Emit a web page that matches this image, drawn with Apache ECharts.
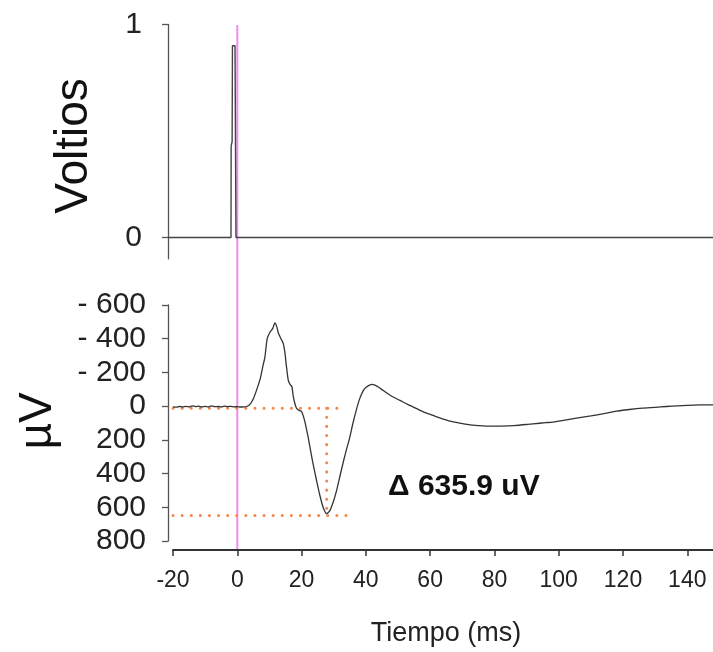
<!DOCTYPE html>
<html>
<head>
<meta charset="utf-8">
<script src="https://cdn.jsdelivr.net/npm/echarts@6/dist/echarts.min.js"></script>
<style>
html,body{margin:0;padding:0;background:#fff;}
#chart{width:713px;height:652px;}
</style>
</head>
<body>
<div id="chart"></div>
<script>
// ---- data ----
const timeTicks = [-20, 0, 20, 40, 60, 80, 100, 120, 140];
const voltTicks = [0, 1];
const uvTicks = [-600, -400, -200, 0, 200, 400, 600, 800];

// stimulus pulse (ms, V)
const pulseTrace = [[-21.5, 0], [-1.95, 0], [-1.9, 0.43], [-1.6, 0.45], [-1.5, 0.9], [-0.7, 0.9], [-0.4, 0], [148, 0]];

// evoked response (ms, µV; positive plotted downward)
const evokedTrace = [
  [-20, 4], [-19, 6], [-18, 2], [-17, 5], [-16, 1], [-15, 4], [-14, -2], [-13, 3], [-12, 0], [-11, 5],
  [-10, 1], [-9, 4], [-8, -1], [-7, 3], [-6, 2], [-5, 5], [-4, 0], [-3, 3], [-2, 1], [-1, 4],
  [0, 3], [1, 5], [2, 4], [2.9, 2], [4, -12], [5, -44], [6, -95], [7.1, -160], [8, -240], [8.6, -291],
  [9.3, -400], [10.2, -440], [11, -460], [11.7, -494], [12.3, -470], [12.8, -432], [13.8, -392], [14.3, -372],
  [14.8, -320], [15.3, -235], [15.85, -155], [16.4, -130], [17, -115], [17.4, -60], [18, -10], [18.5, 15],
  [19.2, 25], [20, 32], [21, 90], [22, 180], [22.6, 243], [23.5, 335], [24.7, 445], [25.7, 530], [26.7, 600],
  [27.8, 638], [28.8, 620], [30, 560], [30.9, 500], [32, 410], [33, 330], [34, 255], [35, 185], [36, 100],
  [37, 25], [38, -40], [39.2, -92], [40.2, -113], [41.8, -129], [43, -123], [44, -112], [45.4, -93],
  [47, -72], [48.5, -54], [50.6, -34], [53, -10], [55.8, 15], [58, 35], [60.9, 55], [63, 70], [66.1, 89],
  [69.2, 101], [72, 110], [75, 115], [78.5, 119], [82, 118], [86, 115], [90, 109], [92, 105], [96, 98],
  [98, 95], [102.4, 81], [106, 70], [110, 58], [114, 45], [117.9, 30], [122, 20], [126, 12], [130, 7],
  [133.5, 2], [137, -2], [140, -5], [144, -7], [148, -8]
];

// amplitude measurement guides
const baselineLevel = 12;
const troughLevel = 648;
const troughTime = 27.8;
const baselineGuide = [[-20, baselineLevel], [31.3, baselineLevel]];
const troughGuide = [[-20, troughLevel], [34.4, troughLevel]];
const verticalGuide = [[troughTime, baselineLevel], [troughTime, troughLevel]];
const stimulusMarker = [[0, 0], [0, 1]];
const deltaLabel = 'Δ 635.9 uV';

// ---- chart ----
const FONT = '"Liberation Sans", Arial, Helvetica, sans-serif';
const chart = echarts.init(document.getElementById('chart'), null, {renderer: 'canvas'});

const dotStyle = {color: '#f3884a', width: 3, type: [0.1, 9], cap: 'round'};

chart.setOption({
  animation: false,
  backgroundColor: '#ffffff',
  grid: [
    {left: 168, right: 0, top: 24.5, height: 234.3},
    {left: 173, right: 0, top: 305, bottom: 111},
    {left: 173, right: 0, top: 25, bottom: 103}
  ],
  xAxis: [
    {gridIndex: 0, type: 'value', min: -21.55, max: 148, show: false},
    {
      gridIndex: 1, type: 'value', min: -20, max: 148, interval: 20, offset: 9,
      axisLine: {show: true, onZero: false, lineStyle: {color: '#333', width: 2}},
      axisTick: {show: true, length: 6, customValues: timeTicks, lineStyle: {color: '#333', width: 1.5}},
      axisLabel: {customValues: timeTicks, margin: 19, color: '#222', fontSize: 23, fontFamily: FONT},
      splitLine: {show: false}
    },
    {gridIndex: 2, type: 'value', min: -20, max: 148, show: false}
  ],
  yAxis: [
    {
      gridIndex: 0, type: 'value', min: -0.1, max: 1, offset: 0,
      axisLine: {show: true, onZero: false, lineStyle: {color: '#555', width: 1.3}},
      axisTick: {show: true, length: 6, customValues: voltTicks, lineStyle: {color: '#555', width: 1.3}},
      axisLabel: {customValues: voltTicks, margin: 26, color: '#222', fontSize: 30, fontFamily: FONT},
      splitLine: {show: false}
    },
    {
      gridIndex: 1, type: 'value', min: -600, max: 800, interval: 200, inverse: true, offset: 5,
      axisLine: {show: true, onZero: false, lineStyle: {color: '#555', width: 1.3}},
      axisTick: {show: true, length: 6, lineStyle: {color: '#555', width: 1.3}},
      axisLabel: {
        margin: 22, color: '#222', fontSize: 30, fontFamily: FONT,
        formatter: v => v < 0 ? '- ' + (-v) : String(v)
      },
      splitLine: {show: false}
    },
    {gridIndex: 2, type: 'value', min: 0, max: 1, show: false}
  ],
  series: [
    {
      type: 'line', xAxisIndex: 2, yAxisIndex: 2, data: stimulusMarker, symbol: 'none', z: 1,
      lineStyle: {color: '#f08cf0', width: 2}, silent: true
    },
    {
      type: 'line', xAxisIndex: 0, yAxisIndex: 0, data: pulseTrace, symbol: 'none', z: 3,
      lineStyle: {color: '#444', width: 1.4}
    },
    {
      type: 'line', xAxisIndex: 1, yAxisIndex: 1, data: baselineGuide, symbol: 'none', z: 2,
      lineStyle: dotStyle
    },
    {
      type: 'line', xAxisIndex: 1, yAxisIndex: 1, data: troughGuide, symbol: 'none', z: 2,
      lineStyle: dotStyle
    },
    {
      type: 'line', xAxisIndex: 1, yAxisIndex: 1, data: verticalGuide, symbol: 'none', z: 2,
      lineStyle: dotStyle
    },
    {
      type: 'line', xAxisIndex: 1, yAxisIndex: 1, data: evokedTrace, symbol: 'none', z: 3,
      smooth: 0.2, lineStyle: {color: '#333', width: 1.3}
    }
  ],
  graphic: [
    {
      type: 'text', x: 74, y: 146, rotation: Math.PI / 2,
      style: {text: 'Voltios', font: '46px ' + FONT, fill: '#111', align: 'center', verticalAlign: 'middle'}
    },
    {
      type: 'text', x: 38, y: 421, rotation: Math.PI / 2,
      style: {text: 'µV', font: '46px ' + FONT, fill: '#111', align: 'center', verticalAlign: 'middle'}
    },
    {
      type: 'text', x: 446, y: 634,
      style: {text: 'Tiempo (ms)', font: '27px ' + FONT, fill: '#222', align: 'center', verticalAlign: 'middle'}
    },
    {
      type: 'text', x: 388, y: 487,
      style: {text: deltaLabel, font: 'bold 30px ' + FONT, fill: '#111', align: 'left', verticalAlign: 'middle'}
    }
  ]
});
</script>
</body>
</html>
